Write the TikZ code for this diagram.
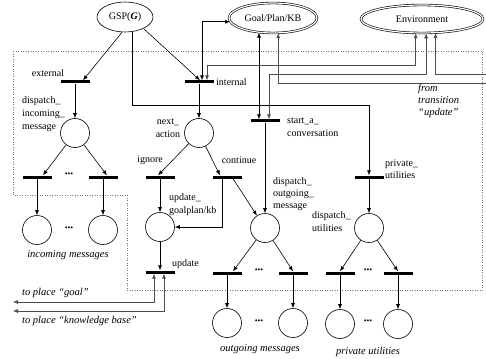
\documentclass[tikz,border=0pt]{standalone}
\usepackage{fontspec}
\setmainfont{Liberation Serif}
\usetikzlibrary{arrows.meta,shapes.geometric}
\begin{document}
\begin{tikzpicture}[x=1pt,y=-1pt,
  font=\fontsize{10}{13}\selectfont,
  >={Latex[length=5pt,width=4pt]},
  conn/.style={line width=0.6pt,->},
  both/.style={line width=0.6pt,<->},
  fb/.style={draw=black!70},
  place/.style={circle,draw,line width=0.6pt,minimum size=29pt,inner sep=0pt},
  bar/.style={rectangle,fill=black,minimum width=29pt,minimum height=3pt,inner sep=0pt},
  oval/.style={ellipse,draw,line width=0.6pt,inner sep=0pt},
  lbl/.style={inner sep=0pt,align=left},
  itl/.style={inner sep=0pt,align=left,font=\fontsize{10.5}{12}\selectfont\itshape},
  dots/.style={inner sep=0pt,font=\fontsize{8}{8}\selectfont}
]
\useasboundingbox (0,0) rectangle (486,358);

% boundary
\draw[black!55,dotted,line width=0.5pt] (13,51) -- (482,51) -- (482,290) -- (127,290) -- (127,195) -- (13,195) -- cycle;

% ellipses
\node[oval,minimum width=56pt,minimum height=30pt] (GSP) at (125,17) {GSP(\textbf{\textit{G}})};
\node[oval,double,double distance=1.2pt,minimum width=88pt,minimum height=30pt] (GPK) at (273,18) {Goal/Plan/KB};
\node[oval,double,double distance=1.2pt,minimum width=122pt,minimum height=28pt] (ENV) at (422,19) {Environment};

% transitions
\node[bar] (ext) at (75,82) {};
\node[bar] (int) at (199,82) {};
\node[bar] (inL) at (37,177) {};
\node[bar] (inR) at (103,177) {};
\node[bar] (ign) at (160,177) {};
\node[bar] (cont) at (227,177) {};
\node[bar] (start) at (265,121) {};
\node[bar] (priv) at (369,177) {};
\node[bar] (upd) at (160,272) {};
\node[bar] (outL) at (227,273) {};
\node[bar] (outR) at (293,273) {};
\node[bar] (puL) at (340,273) {};
\node[bar] (puR) at (398,273) {};

% places
\node[place] (dim) at (75,133) {};
\node[place] (na) at (199,133) {};
\node[place] (inc1) at (37,230) {};
\node[place] (inc2) at (103,230) {};
\node[place] (ugk) at (160,227) {};
\node[place] (dom) at (265,228) {};
\node[place] (du) at (369,228) {};
\node[place] (om1) at (227,323) {};
\node[place] (om2) at (293,323) {};
\node[place] (pu1) at (340,324) {};
\node[place] (pu2) at (398,324) {};

% helper coordinates
\coordinate (h65) at (0,65);
\coordinate (h74) at (0,74);
\coordinate (h105) at (0,105);
\coordinate (h302) at (0,302);
\coordinate (h311) at (0,311);
\coordinate (i1) at ([xshift=3pt]int.north);
\coordinate (i2) at ([xshift=8pt]int.north);
\coordinate (s1) at ([xshift=-6pt]start.north);
\coordinate (s2) at ([xshift=4pt]start.north);
\coordinate (u1) at ([xshift=-6pt]upd.south);
\coordinate (u2) at ([xshift=4pt]upd.south);
\coordinate (fr1) at (486,83);
\coordinate (fr2) at (486,74);
\coordinate (g1) at (13,302);
\coordinate (g2) at (13,311);
\coordinate (c1) at ([xshift=-5pt]cont.south);
\coordinate (c2) at ([xshift=6pt]cont.south);

% GSP arcs
\draw[conn] (GSP.259) -- ([xshift=8pt]ext.north);
\draw[conn] (GSP.-32) -- ([xshift=1pt]int.north);
\draw[conn] (GSP.-64) -- (GSP.-64 |- h105) -| (priv.north);

% feedback arcs
\draw[both] (i1) -- (i1 |- GPK.185) -- (GPK.185);
\draw[both,fb] (i2) -- (i2 |- h65) -| (ENV.246);
\draw[both] (s1) -- (s1 |- GPK.228);
\draw[both,fb] (s2) -- (s2 |- h74) -| (ENV.-74);
\draw[conn,fb] (fr1) -| (GPK.-71);
\draw[conn,fb] (fr2) -| (ENV.-46);
\draw[both,fb] (g1) -- (u1 |- h302) -- (u1);
\draw[both,fb] (g2) -- (u2 |- h311) -- (u2);

% internal net
\draw[conn] (ext) -- (dim);
\draw[conn] (dim) -- ([xshift=6pt]inL.north);
\draw[conn] (dim) -- ([xshift=4pt]inR.north);
\draw[conn] (inL) -- (inc1);
\draw[conn] (inR) -- (inc2);
\draw[conn] (int) -- (na);
\draw[conn] (na) -- ([xshift=-2pt]ign.north);
\draw[conn] (na) -- ([xshift=-7pt]cont.north);
\draw[conn] (ign) -- (ugk);
\draw[conn] (c1) |- (ugk.east);
\draw[conn] (c2) -- (dom);
\draw[conn] (ugk) -- (upd);
\draw[conn] (start) -- (dom);
\draw[conn] (dom) -- ([xshift=6pt]outL.north);
\draw[conn] (dom) -- (outR.north);
\draw[conn] (outL) -- (om1);
\draw[conn] (outR) -- (om2);
\draw[conn] (priv) -- (du);
\draw[conn] (du) -- (puL.north);
\draw[conn] (du) -- (puR.north);
\draw[conn] (puL) -- (pu1);
\draw[conn] (puR) -- (pu2);

% labels
\node[lbl] (Lext) at (48,73) {external};
\node[lbl,anchor=west] (Lint) at (216,82) {internal};
\node[lbl,anchor=west] (Ldim) at (22,114) {dispatch\_\\incoming\_\\message};
\node[lbl,align=center] (Lna) at (168,128) {next\_\\action};
\node[lbl] (Lign) at (150,160) {ignore};
\node[lbl] (Lcont) at (239,160) {continue};
\node[lbl,anchor=west] (Lstart) at (287,127) {start\_a\_\\conversation};
\node[lbl,anchor=west] (Lugk) at (169,205) {update\_\\goalplan/kb};
\node[lbl,anchor=west,font=\fontsize{10}{12}\selectfont] (Ldom) at (273,194) {dispatch\_\\outgoing\_\\message};
\node[lbl,anchor=west,font=\fontsize{10}{12}\selectfont] (Lpriv) at (385,169) {private\_\\utilities};
\node[lbl,anchor=west] (Ldu) at (312,222) {dispatch\_\\utilities};
\node[lbl,anchor=west] (Lupd) at (172,264) {update};
\node[itl,anchor=west] (Lfrom) at (418,101) {from\\transition\\“update”};
\node[itl,anchor=west] (Lgoal) at (22,293) {to place “goal”};
\node[itl,anchor=west] (Lkb) at (22,321) {to place “knowledge base”};
\node[itl] (Linc) at (68,255) {incoming messages};
\node[itl] (Lout) at (260,349) {outgoing messages};
\node[itl] (Lpu) at (368,352) {private utilities};

% dots
\node[dots] (d1) at (69,175) {•••};
\node[dots] (d2) at (69,229) {•••};
\node[dots] (d3) at (259,271) {•••};
\node[dots] (d4) at (259,322) {•••};
\node[dots] (d5) at (368,271) {•••};
\node[dots] (d6) at (368,322) {•••};
\end{tikzpicture}
\end{document}
